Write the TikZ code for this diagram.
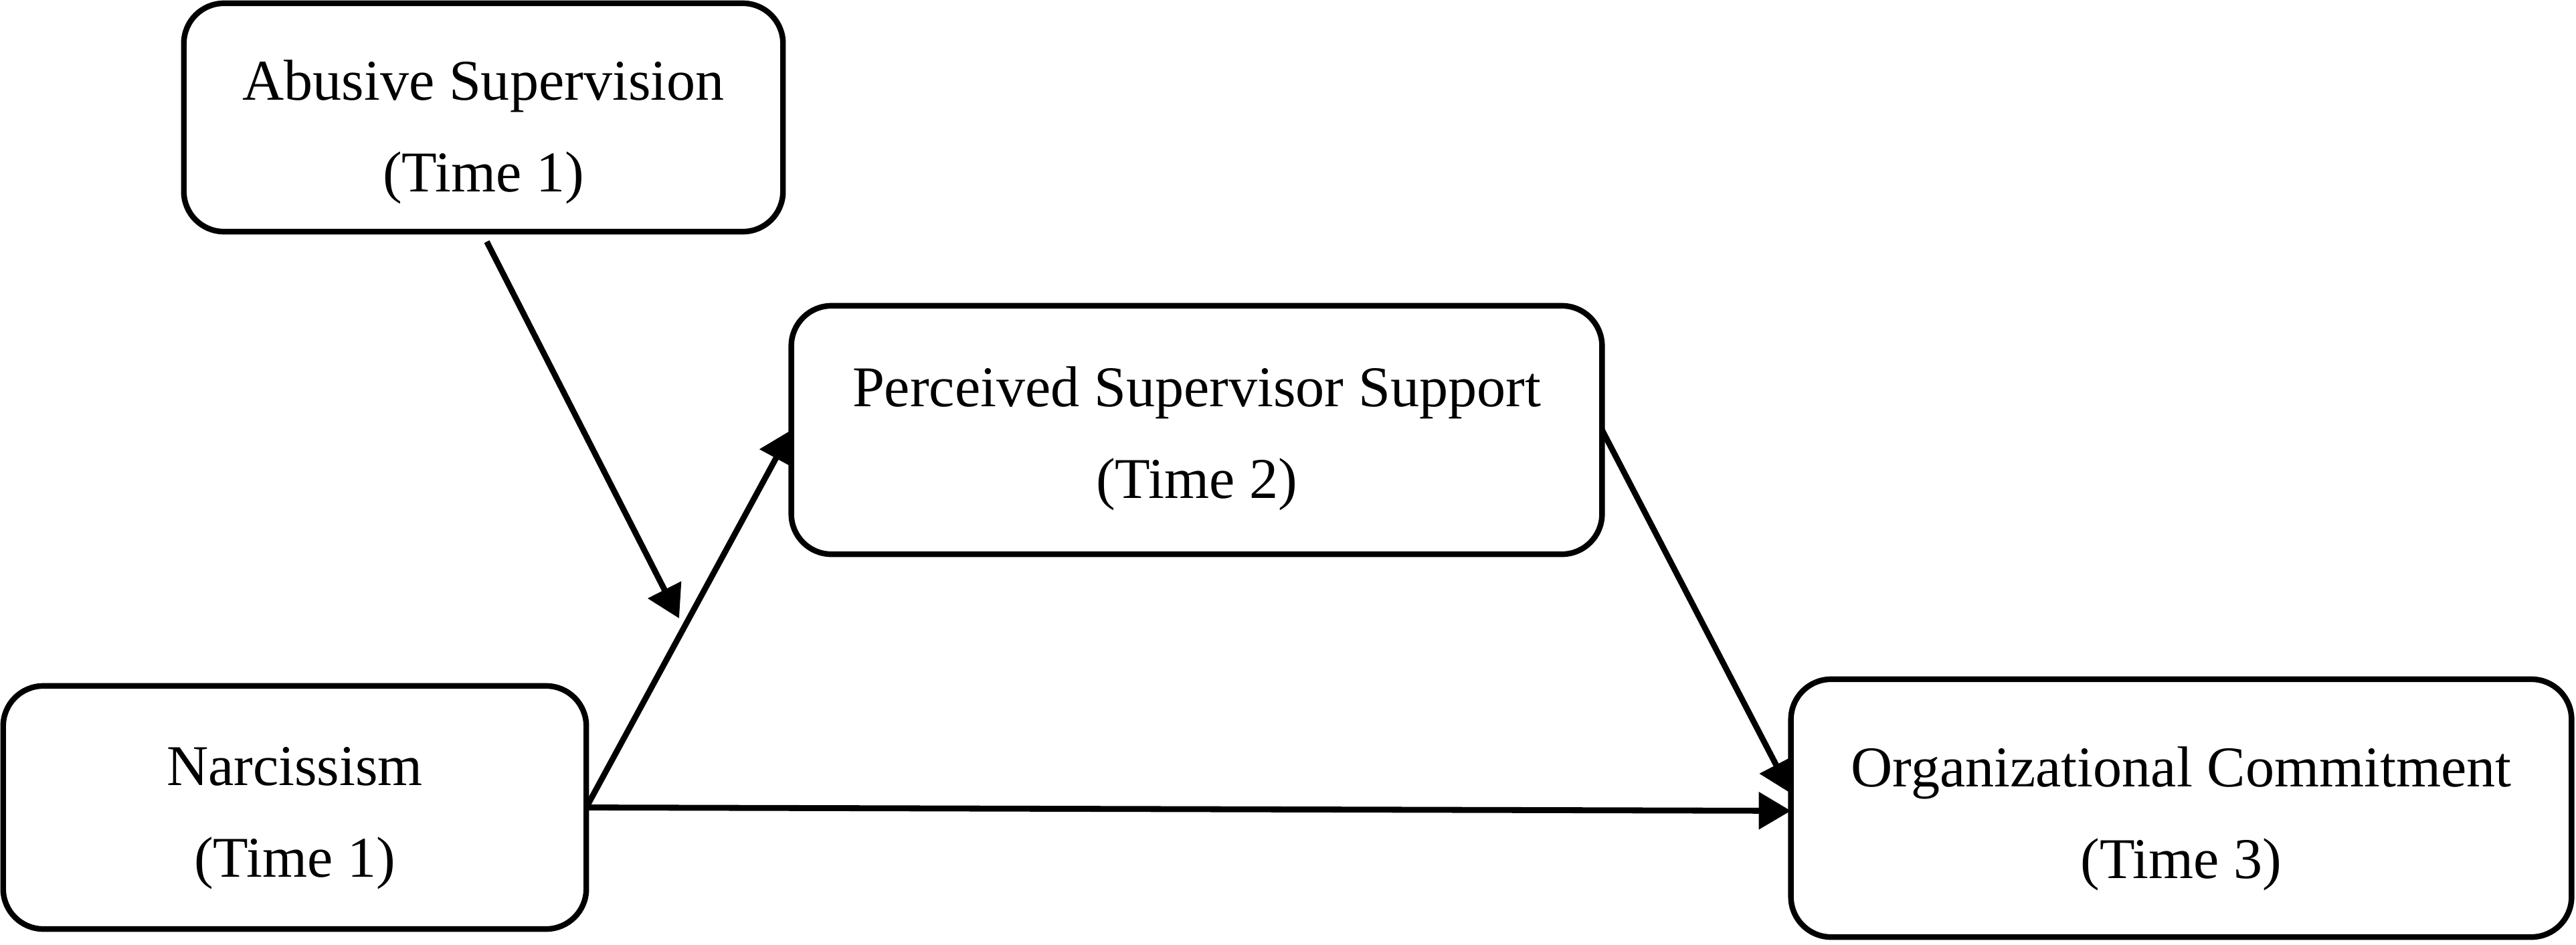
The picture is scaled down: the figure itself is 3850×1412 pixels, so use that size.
\documentclass[tikz,border=0pt]{standalone}
\usepackage{fontspec}
\setmainfont{Liberation Serif}
\usetikzlibrary{arrows.meta,calc}
\begin{document}
\begin{tikzpicture}[x=0.01cm,y=-0.01cm,
  boxnode/.style={draw=black, line width=2.4pt, rounded corners=0.6cm, inner sep=0pt, outer sep=0pt},
  txtnode/.style={align=center, inner sep=0pt, font=\fontsize{24.5pt}{39pt}\selectfont},
  arr/.style={line width=2.5pt, -{Triangle[length=0.48cm,width=0.54cm]}}]
\useasboundingbox (0,0) rectangle (3850,1412);
\fill[white] (0,0) rectangle (3850,1412);
% boxes
\node[boxnode, minimum width=8.95cm, minimum height=3.41cm] (ab) at (722.5,175.5) {};
\node[boxnode, minimum width=12.11cm, minimum height=3.71cm] (pss) at (1788.5,642.5) {};
\node[boxnode, minimum width=8.71cm, minimum height=3.63cm] (n) at (440.5,1206.5) {};
\node[boxnode, minimum width=11.66cm, minimum height=3.85cm] (oc) at (3260,1207.5) {};
% texts
\node[txtnode] (abt) at ($(ab.center)+(0,22)$) {Abusive Supervision\\(Time 1)};
\node[txtnode] (psst) at ($(pss.center)+(0,13)$) {Perceived Supervisor Support\\(Time 2)};
\node[txtnode] (nt) at ($(n.center)+(0,16)$) {Narcissism\\(Time 1)};
\node[txtnode] (oct) at ($(oc.center)+(0,16)$) {Organizational Commitment\\(Time 3)};
% connectors
\coordinate (abs) at ($(ab.south)+(5,15)$);
\coordinate (mod) at (1015,924);
\draw[arr] (abs) -- (mod);
\draw[arr] (n.east) -- (pss.west);
\draw[arr] (pss.east) -- ($(oc.west)+(0,-22)$);
\draw[arr] (n.east) -- ($(oc.west)+(0,4)$);
\end{tikzpicture}
\end{document}
